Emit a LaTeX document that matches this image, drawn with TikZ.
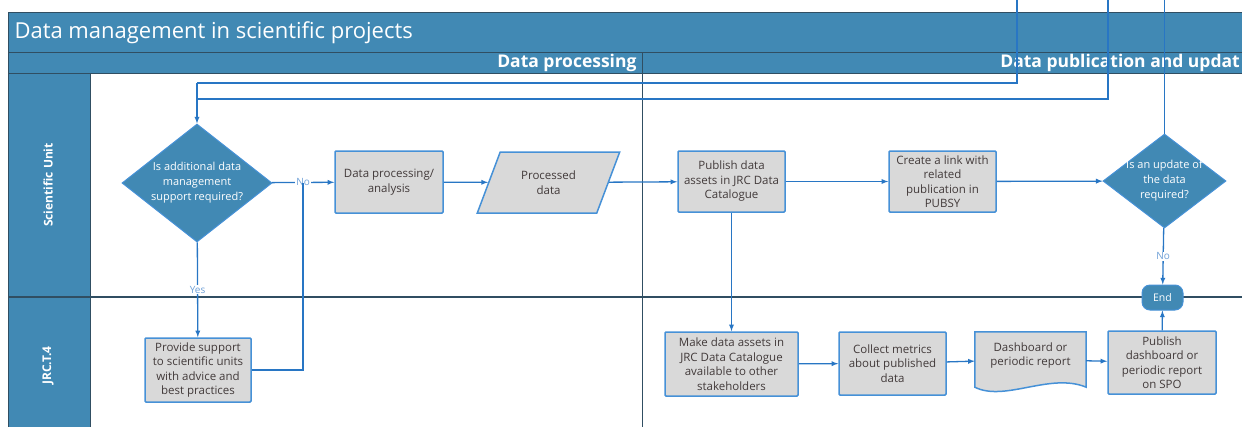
\documentclass[tikz,border=0pt]{standalone}
\usepackage{fontspec}
\setmainfont{Open Sans}
\usetikzlibrary{shapes.geometric}

\definecolor{laneblue}{RGB}{65,137,180}
\definecolor{laneline}{RGB}{48,78,98}
\definecolor{flowblue}{RGB}{40,118,196}
\definecolor{boxline}{RGB}{70,145,215}
\definecolor{boxgray}{RGB}{217,217,217}
\definecolor{boxtext}{RGB}{66,58,58}
\definecolor{lbltext}{RGB}{110,160,215}

\begin{document}
\begin{tikzpicture}[x=1pt,y=-1pt,>=latex,
    lane/.style={fill=laneblue,draw=laneline,line width=1pt},
    rule/.style={draw=laneline,line width=1.6pt},
    box/.style={draw=boxline,fill=boxgray,line width=1.5pt,rounded corners=1pt,align=center,text=boxtext,font=\fontsize{11.5}{14.5}\selectfont,inner sep=1pt},
    decision/.style={diamond,draw=boxline,fill=laneblue,line width=1pt,inner sep=0pt},
    dtext/.style={align=center,text=white,font=\fontsize{11}{15}\selectfont,inner sep=0pt},
    flow/.style={->,draw=flowblue,line width=1.3pt},
    line/.style={draw=flowblue,line width=1.3pt},
    lbl/.style={fill=white,text=lbltext,font=\fontsize{10}{11}\selectfont,inner sep=1pt}]

    \useasboundingbox (0,0) rectangle (1242,426);
    \clip (0,0) rectangle (1242,426);

    \draw[lane] (8,12) rectangle (1250,52);
    \draw[lane] (8,52) rectangle (1250,73);
    \draw[lane] (8,73) rectangle (90,430);
    \draw[rule] (8,297) -- (1250,297);
    \draw[draw=laneline,line width=1pt] (642,52) -- (642,430);

    \node[anchor=west,text=white,font=\fontsize{22}{25}\selectfont] (title) at (11,32.5) {Data management in scientific projects};
    \node[anchor=east,text=white,font=\bfseries\fontsize{17.5}{19}\selectfont] (ph1) at (640,62.5) {Data processing};
    \node[anchor=east,text=white,font=\bfseries\fontsize{17.5}{19}\selectfont,inner sep=1pt] (ph2) at (1241,62.5) {Data publication and updat};
    \node[rotate=90,text=white,font=\bfseries\fontsize{12}{14}\selectfont] (su) at (48,185) {Scientific Unit};
    \node[rotate=90,text=white,font=\bfseries\fontsize{12}{14}\selectfont] (jrc) at (48,365.5) {JRC.T.4};

    \node[decision,minimum width=150,minimum height=118] (d1) at (197,183) {};
    \node[dtext] (d1t) at (197,183) {Is additional data\\ management\\ support required?};
    \node[box,minimum width=108,minimum height=62] (2) at (389,182) {Data processing/\\ analysis};
    \node[box,trapezium,trapezium left angle=62,trapezium right angle=118,trapezium stretches=true,rounded corners=0pt,minimum width=143,minimum height=61] (3) at (548.5,182.5) {Processed\\ data};
    \node[box,minimum width=107,minimum height=61] (4) at (731.5,181.5) {Publish data\\ assets in JRC Data\\ Catalogue};
    \node[box,minimum width=107,minimum height=61] (5) at (942.5,181.5) {Create a link with\\ related\\ publication in\\ PUBSY};
    \node[decision,minimum width=123,minimum height=94] (d2) at (1164.5,181) {};
    \node[dtext] (d2t) at (1164.5,181) {Is an update of\\ the data\\ required?};
    \node[draw=boxline,fill=laneblue,line width=1pt,rounded corners=8pt,minimum width=41,minimum height=25,text=white,font=\fontsize{10.5}{12}\selectfont] (end) at (1162.5,297.5) {End};

    \node[box,minimum width=106,minimum height=64] (6) at (198,370) {Provide support\\ to scientific units\\ with advice and\\ best practices};
    \node[box,minimum width=133,minimum height=64] (7) at (731.5,364) {Make data assets in\\ JRC Data Catalogue\\ available to other\\ stakeholders};
    \node[box,minimum width=107,minimum height=63] (8) at (892.5,363.5) {Collect metrics\\ about published\\ data};
    \node[minimum width=111,minimum height=55,inner sep=0pt] (9) at (1030.5,359.5) {};
    \draw[draw=boxline,fill=boxgray,line width=1.5pt] (9.south west) -- (9.north west) -- (9.north east) -- (9.south east) .. controls +(-36,-15) and +(30,15) .. (9.south west) -- cycle;
    \node[align=center,text=boxtext,font=\fontsize{11.5}{14}\selectfont] (9t) at (1030.5,355.5) {Dashboard or\\ periodic report};
    \node[box,minimum width=108,minimum height=63] (10) at (1162,362.5) {Publish\\ dashboard or\\ periodic report\\ on SPO};

    \coordinate (t1) at (1017,0);
    \coordinate (t2) at (1108,0);
    \coordinate (t3) at (1164.5,0);
    \coordinate (j1) at (197,83);
    \coordinate (j2) at (197,99);
    \coordinate (j3) at (303,183);

    \draw[line] (t1) |- (j1);
    \draw[line] (t2) |- (j2);
    \draw[flow] (j1) -- (d1);
    \draw[line] (t3) -- (d2);

    \draw[flow] (d1) -- node[lbl]{No} (2);
    \draw[flow] (d1) -- node[lbl]{Yes} (6);
    \draw[line] (6) -| (j3);
    \draw[flow] (2) -- (3);
    \draw[flow] (3) -- (4);
    \draw[flow] (4) -- (5);
    \draw[flow] (5) -- (d2);
    \draw[flow] (d2) -- node[lbl]{No} (end);
    \draw[flow] (4) -- (7);
    \draw[flow] (7) -- (8);
    \draw[flow] (8) -- (9);
    \draw[flow] (9) -- (10);
    \draw[flow] (10) -- (end);

\end{tikzpicture}
\end{document}
